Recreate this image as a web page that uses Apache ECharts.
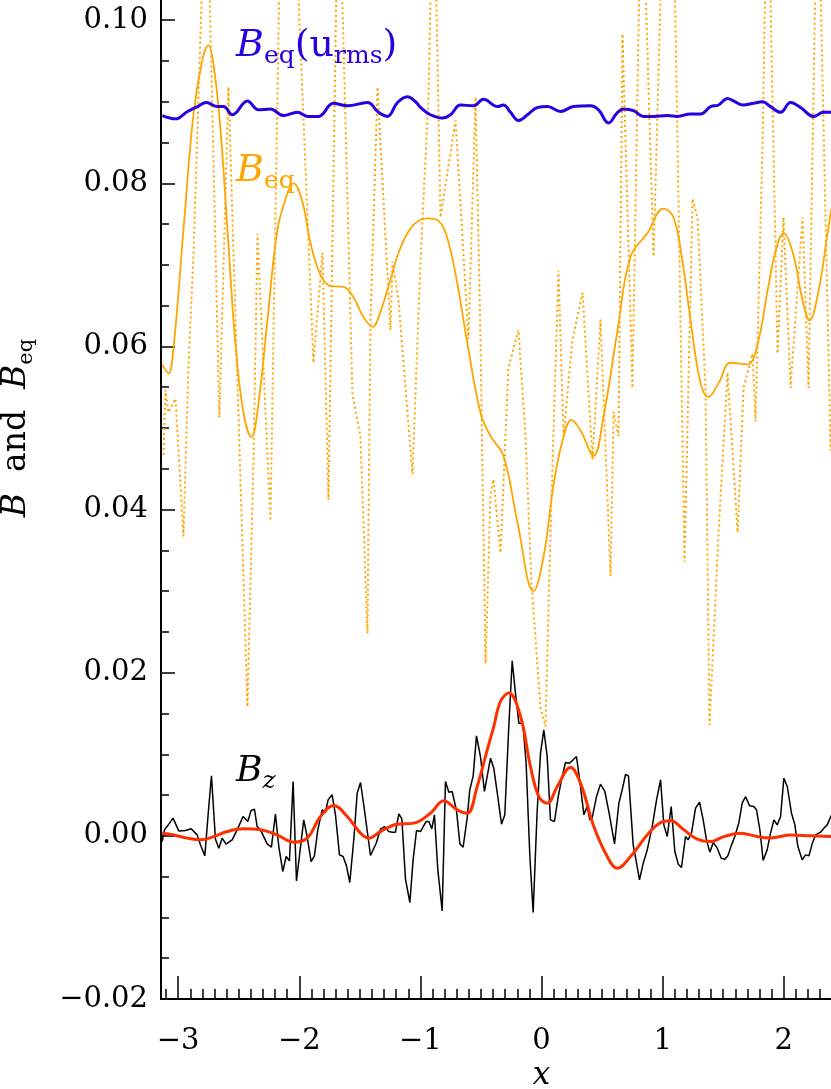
<!DOCTYPE html>
<html>
<head>
<meta charset="utf-8">
<script src="https://cdn.jsdelivr.net/npm/echarts@6/dist/echarts.min.js"></script>
<style>
html, body { margin: 0; padding: 0; background: #fff; }
#main { width: 831px; height: 1089px; }
</style>
</head>
<body>
<div id="main"></div>
<script>
// B_eq(u_rms), thick blue
var beqUrmsX = [-3.130,-3.022,-2.923,-2.841,-2.767,-2.676,-2.626,-2.552,-2.428,-2.337,-2.238,-2.130,-2.015,-1.932,-1.841,-1.718,-1.602,-1.437,-1.346,-1.272,-1.189,-1.107,-1.040,-0.999,-0.917,-0.818,-0.751,-0.669,-0.562,-0.479,-0.363,-0.314,-0.256,-0.190,-0.116,-0.033,0.050,0.157,0.264,0.405,0.471,0.553,0.628,0.677,0.760,0.842,0.925,1.040,1.123,1.230,1.313,1.396,1.462,1.536,1.585,1.660,1.751,1.825,1.891,1.974,2.056,2.139,2.246,2.329,2.395];
var beqUrmsY = [0.0883,0.0879,0.0888,0.0894,0.0899,0.0894,0.0894,0.0884,0.0901,0.0890,0.0891,0.0883,0.0887,0.0882,0.0882,0.0898,0.0895,0.0899,0.0887,0.0882,0.0899,0.0906,0.0900,0.0893,0.0884,0.0880,0.0884,0.0896,0.0895,0.0903,0.0894,0.0896,0.0887,0.0877,0.0884,0.0893,0.0894,0.0888,0.0894,0.0895,0.0890,0.0874,0.0887,0.0891,0.0889,0.0882,0.0882,0.0883,0.0882,0.0885,0.0885,0.0894,0.0896,0.0904,0.0901,0.0896,0.0898,0.0900,0.0894,0.0887,0.0899,0.0893,0.0882,0.0887,0.0887];

// B_eq smoothed, orange solid
var beqSmoothX = [-3.132,-3.080,-3.039,-2.956,-2.874,-2.799,-2.750,-2.709,-2.651,-2.593,-2.527,-2.461,-2.395,-2.337,-2.263,-2.180,-2.097,-2.048,-1.974,-1.908,-1.825,-1.742,-1.635,-1.552,-1.470,-1.396,-1.329,-1.247,-1.164,-1.057,-0.941,-0.851,-0.776,-0.694,-0.611,-0.504,-0.421,-0.314,-0.198,-0.066,0.017,0.099,0.173,0.248,0.322,0.429,0.512,0.628,0.735,0.875,1.007,1.090,1.164,1.230,1.313,1.379,1.462,1.561,1.701,1.784,1.866,1.932,1.998,2.073,2.155,2.213,2.287,2.362,2.395];
var beqSmoothY = [0.0578,0.0567,0.0597,0.0743,0.0884,0.0952,0.0969,0.0947,0.0867,0.0743,0.0603,0.0519,0.0489,0.0530,0.0632,0.0743,0.0788,0.0800,0.0777,0.0727,0.0688,0.0674,0.0673,0.0660,0.0636,0.0624,0.0643,0.0682,0.0721,0.0749,0.0757,0.0754,0.0732,0.0676,0.0603,0.0519,0.0490,0.0466,0.0384,0.0300,0.0342,0.0430,0.0484,0.0510,0.0497,0.0466,0.0514,0.0620,0.0710,0.0739,0.0769,0.0758,0.0704,0.0633,0.0555,0.0538,0.0555,0.0580,0.0578,0.0603,0.0668,0.0716,0.0739,0.0716,0.0657,0.0632,0.0668,0.0739,0.0770];

// B_eq raw, orange dotted
var beqRawX = [-3.121,-3.105,-3.080,-3.022,-2.956,-2.915,-2.874,-2.767,-2.660,-2.585,-2.428,-2.378,-2.345,-2.238,-2.147,-2.056,-1.883,-1.808,-1.759,-1.676,-1.561,-1.495,-1.437,-1.412,-1.354,-1.247,-1.230,-1.181,-1.123,-1.065,-1.024,-0.999,-0.933,-0.892,-0.834,-0.710,-0.603,-0.545,-0.504,-0.462,-0.421,-0.396,-0.339,-0.273,-0.190,-0.132,-0.083,-0.008,0.033,0.074,0.140,0.182,0.256,0.339,0.421,0.487,0.570,0.595,0.636,0.669,0.751,0.826,0.925,1.016,1.082,1.181,1.247,1.288,1.354,1.387,1.462,1.536,1.619,1.668,1.742,1.767,1.825,1.866,1.949,1.998,2.056,2.155,2.205,2.279,2.387,2.395];
var beqRawY = [0.0467,0.0547,0.0519,0.0536,0.0367,0.0575,0.0710,0.1209,0.0513,0.0918,0.0158,0.0462,0.0738,0.0386,0.1209,0.1209,0.0580,0.0715,0.0412,0.1209,0.0541,0.0490,0.0248,0.0632,0.0918,0.0620,0.0704,0.0657,0.0549,0.0443,0.0608,0.0704,0.0906,0.1209,0.0758,0.0877,0.0609,0.0906,0.0609,0.0211,0.0419,0.0437,0.0347,0.0574,0.0620,0.0490,0.0311,0.0157,0.0134,0.0372,0.0693,0.0490,0.0609,0.0666,0.0461,0.0633,0.0318,0.0520,0.0490,0.0983,0.0549,0.1209,0.0710,0.1209,0.1209,0.0336,0.0781,0.0758,0.0549,0.0136,0.0372,0.0568,0.0372,0.0549,0.0591,0.0508,0.0847,0.1209,0.0591,0.0758,0.0549,0.0758,0.0549,0.1209,0.0472,0.0510];

// B_z, thin black
var bzX = [-3.132,-3.113,-3.077,-3.042,-2.995,-2.940,-2.893,-2.843,-2.816,-2.780,
  -2.747,-2.725,-2.692,-2.664,-2.637,-2.604,-2.554,-2.513,-2.464,-2.425,
  -2.398,-2.370,-2.348,-2.320,-2.265,-2.230,-2.197,-2.169,-2.136,-2.108,
  -2.081,-2.051,-2.023,-1.996,-1.963,-1.935,-1.902,-1.875,-1.847,-1.811,
  -1.784,-1.762,-1.729,-1.701,-1.668,-1.638,-1.610,-1.583,-1.550,-1.522,
  -1.494,-1.462,-1.412,-1.365,-1.329,-1.296,-1.261,-1.233,-1.206,-1.178,
  -1.153,-1.123,-1.087,-1.060,-1.032,-0.999,-0.977,-0.952,-0.930,-0.906,
  -0.884,-0.856,-0.820,-0.793,-0.765,-0.738,-0.702,-0.674,-0.647,-0.614,
  -0.592,-0.564,-0.537,-0.504,-0.471,-0.421,-0.394,-0.361,-0.330,-0.303,
  -0.270,-0.242,-0.215,-0.187,-0.154,-0.127,-0.096,-0.069,-0.036,-0.008,
  0.019,0.047,0.074,0.107,0.138,0.165,0.198,0.231,0.261,0.289,
  0.322,0.350,0.377,0.399,0.418,0.454,0.487,0.523,0.556,0.603,
  0.639,0.666,0.694,0.718,0.757,0.790,0.809,0.840,0.873,0.914,
  0.950,0.983,1.010,1.038,1.071,1.101,1.129,1.156,1.189,1.211,
  1.239,1.272,1.305,1.335,1.362,1.390,1.418,1.451,1.484,1.514,
  1.539,1.566,1.596,1.630,1.657,1.685,1.718,1.753,1.775,1.803,
  1.830,1.863,1.891,1.919,1.946,1.974,2.001,2.029,2.064,2.092,
  2.117,2.152,2.180,2.208,2.235,2.263,2.304,2.331,2.359,2.395];
var bzY = [-0.00069,0.00074,0.00143,0.00217,0.00061,0.00065,0.00086,0.00012,-0.00110,-0.00245,
  0.00360,0.00736,-0.00041,-0.00151,-0.00029,-0.00102,-0.00049,0.00074,0.00237,0.00176,
  0.00311,0.00327,0.00114,0.00074,-0.00098,-0.00139,0.00266,-0.00131,-0.00437,-0.00253,
  -0.00307,0.00666,-0.00552,-0.00213,0.00196,-0.00008,-0.00315,-0.00245,0.00074,0.00319,
  0.00286,0.00441,0.00503,0.00258,-0.00233,-0.00253,-0.00368,-0.00572,-0.00049,0.00523,
  0.00654,0.00319,-0.00241,-0.00090,0.00082,0.00114,0.00053,0.00045,0.00045,0.00270,
  0.00208,-0.00531,-0.00817,-0.00294,0.00065,0.00053,0.00114,0.00176,0.00176,0.00086,
  0.00258,-0.00417,-0.00920,0.00666,0.00535,0.00544,0.00311,-0.00098,-0.00139,0.00217,
  0.00564,0.00736,0.01226,0.00973,0.00544,0.00952,0.00830,0.00482,0.00143,0.00258,
  0.01341,0.02146,0.01749,0.01382,0.01382,0.00891,-0.00253,-0.00940,0.00298,0.01014,
  0.01300,0.00973,0.00196,0.00176,0.00482,0.00687,0.00899,0.00891,0.00932,0.00973,
  0.00605,0.00258,0.00360,0.00196,0.00217,0.00482,0.00634,0.00544,0.00298,-0.00098,
  0.00401,0.00564,0.00752,0.00736,-0.00110,-0.00376,-0.00540,-0.00335,-0.00172,0.00114,
  0.00441,0.00687,0.00135,-0.00008,0.00360,-0.00192,-0.00347,-0.00388,-0.00008,-0.00049,
  0.00041,0.00339,0.00413,0.00196,-0.00049,-0.00200,-0.00082,-0.00151,-0.00274,-0.00286,
  -0.00245,-0.00123,-0.00008,0.00164,0.00401,0.00482,0.00368,0.00360,0.00319,0.00074,
  -0.00302,-0.00172,0.00033,0.00196,0.00135,0.00237,0.00707,0.00605,0.00278,0.00135,
  -0.00131,-0.00294,-0.00233,-0.00245,-0.00098,0.00012,0.00045,0.00094,0.00135,0.00258];

// B_z smoothed, thick red
var bzSmoothX = [-3.132,-3.036,-2.926,-2.816,-2.706,-2.595,-2.458,-2.320,-2.183,-2.045,-1.935,-1.825,-1.715,-1.604,-1.495,-1.426,-1.329,-1.192,-1.055,-0.917,-0.807,-0.696,-0.614,-0.531,-0.448,-0.394,-0.339,-0.270,-0.173,-0.091,-0.022,0.047,0.130,0.239,0.322,0.432,0.543,0.625,0.735,0.873,0.983,1.065,1.175,1.286,1.396,1.505,1.643,1.781,1.891,2.056,2.221,2.395];
var bzSmoothY = [0.00033,0.00012,-0.00028,-0.00049,-0.00009,0.00053,0.00086,0.00074,0.00012,-0.00077,-0.00028,0.00237,0.00372,0.00237,0.00033,-0.00028,0.00053,0.00143,0.00156,0.00278,0.00429,0.00319,0.00278,0.00605,0.01055,0.01340,0.01647,0.01750,0.01463,0.00850,0.00482,0.00401,0.00605,0.00838,0.00646,0.00114,-0.00254,-0.00396,-0.00254,0.00012,0.00163,0.00184,0.00074,-0.00040,-0.00070,-0.00009,0.00033,-0.00009,-0.00025,0.00009,0.00000,-0.00009];

var xMajorTicks = [-3, -2, -1, 0, 1, 2, 3];

var FONT = 'DejaVu Serif';
var BLUE = '#2a00e0';
var ORANGE = '#ffa500';
var RED = '#ff3000';

function pairs(xs, ys) {
  var out = [];
  for (var i = 0; i < xs.length; i++) out.push([xs[i], ys[i]]);
  return out;
}
function minus(s) {
  return String(s).replace('-', '\u2212');
}

// minor ticks every 0.1 on x
var xMinorTicks = [];
for (var k = -31; k <= 31; k++) {
  if (k % 10 !== 0) xMinorTicks.push(k / 10);
}

var myChart = echarts.init(document.getElementById('main'));

var tickStyle = { color: '#000', width: 1.5 };

var option = {
  animation: false,
  backgroundColor: '#fff',
  grid: {
    left: 161, right: -91, top: -143, bottom: 90,
    containLabel: false,
    outerBoundsMode: 'none'
  },
  xAxis: [
    {
      type: 'value',
      min: -Math.PI,
      max: Math.PI,
      axisLine: { onZero: false, lineStyle: { color: '#000', width: 2 } },
      axisTick: { inside: true, length: 23, customValues: xMajorTicks, lineStyle: tickStyle },
      axisLabel: {
        customValues: xMajorTicks,
        formatter: function (v) { return minus(v); },
        margin: 28, color: '#000', fontFamily: FONT, fontSize: 29
      },
      splitLine: { show: false },
      name: 'x',
      nameLocation: 'middle',
      nameGap: 61,
      nameTextStyle: { fontFamily: FONT, fontStyle: 'italic', fontSize: 31, color: '#000' }
    },
    {
      type: 'value',
      min: -Math.PI,
      max: Math.PI,
      position: 'bottom',
      axisLine: { show: false, onZero: false },
      axisTick: { inside: true, length: 10, customValues: xMinorTicks, lineStyle: tickStyle },
      axisLabel: { show: false },
      splitLine: { show: false }
    }
  ],
  yAxis: {
    type: 'value',
    min: -0.02,
    max: 0.12,
    interval: 0.02,
    axisLine: { show: true, onZero: false, lineStyle: { color: '#000', width: 2 } },
    axisTick: { show: true, inside: true, length: 14, lineStyle: tickStyle },
    minorTick: { show: true, splitNumber: 4, length: 8, lineStyle: tickStyle },
    axisLabel: {
      formatter: function (v) { return minus(v.toFixed(2)); },
      margin: 13, color: '#000', fontFamily: FONT, fontSize: 29
    },
    splitLine: { show: false },
    name: '{i|B}  and  {i|B}{s|eq}',
    nameLocation: 'middle',
    nameGap: 124,
    nameTextStyle: {
      fontFamily: FONT, fontSize: 33, color: '#000',
      rich: {
        i: { fontFamily: FONT, fontStyle: 'italic', fontSize: 33, lineHeight: 42, color: '#000' },
        s: { fontFamily: FONT, fontSize: 21, lineHeight: 21, verticalAlign: 'bottom', color: '#000' }
      }
    }
  },
  graphic: [
    {
      type: 'text', left: 236, top: 27, z: 100,
      style: {
        text: '{b|B}{s|eq}{n|(u}{s|rms}{n|)}',
        fill: BLUE,
        rich: {
          b: { fontFamily: FONT, fontStyle: 'italic', fontSize: 38, lineHeight: 46, fill: BLUE },
          n: { fontFamily: FONT, fontSize: 38, lineHeight: 46, fill: BLUE },
          s: { fontFamily: FONT, fontSize: 25, lineHeight: 25, verticalAlign: 'bottom', fill: BLUE }
        }
      }
    },
    {
      type: 'text', left: 236, top: 152, z: 100,
      style: {
        text: '{b|B}{s|eq}',
        fill: ORANGE,
        rich: {
          b: { fontFamily: FONT, fontStyle: 'italic', fontSize: 38, lineHeight: 46, fill: ORANGE },
          s: { fontFamily: FONT, fontSize: 25, lineHeight: 25, verticalAlign: 'bottom', fill: ORANGE }
        }
      }
    },
    {
      type: 'text', left: 236, top: 754, z: 100,
      style: {
        text: '{b|B}{s|z}',
        fill: '#000',
        rich: {
          b: { fontFamily: FONT, fontStyle: 'italic', fontSize: 36, lineHeight: 44, fill: '#000' },
          s: { fontFamily: FONT, fontStyle: 'italic', fontSize: 25, lineHeight: 25, verticalAlign: 'bottom', fill: '#000' }
        }
      }
    }
  ],
  series: [
    {
      name: 'B_eq raw',
      type: 'line',
      xAxisIndex: 0,
      data: pairs(beqRawX, beqRawY),
      showSymbol: false,
      lineStyle: { color: ORANGE, width: 2, type: [2, 3] },
      z: 1
    },
    {
      name: 'B_eq',
      type: 'line',
      xAxisIndex: 0,
      data: pairs(beqSmoothX, beqSmoothY),
      showSymbol: false,
      smooth: 0.4,
      lineStyle: { color: ORANGE, width: 1.8 },
      z: 2
    },
    {
      name: 'B_eq(u_rms)',
      type: 'line',
      xAxisIndex: 0,
      data: pairs(beqUrmsX, beqUrmsY),
      showSymbol: false,
      smooth: 0.4,
      lineStyle: { color: BLUE, width: 3 },
      z: 3
    },
    {
      name: 'B_z',
      type: 'line',
      xAxisIndex: 0,
      data: pairs(bzX, bzY),
      showSymbol: false,
      lineStyle: { color: '#000', width: 1.5 },
      z: 4
    },
    {
      name: 'B_z smooth',
      type: 'line',
      xAxisIndex: 0,
      data: pairs(bzSmoothX, bzSmoothY),
      showSymbol: false,
      smooth: 0.4,
      lineStyle: { color: RED, width: 3 },
      z: 5
    }
  ]
};

myChart.setOption(option);
</script>
</body>
</html>
